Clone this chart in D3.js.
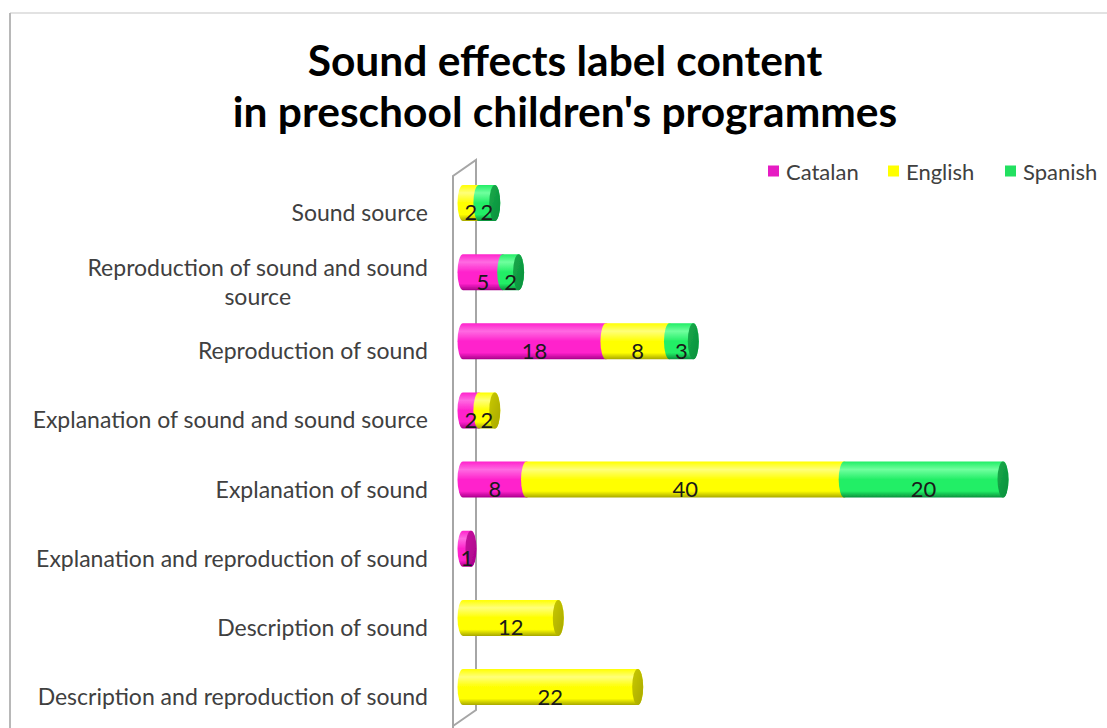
<!DOCTYPE html>
<html>
<head>
<meta charset="utf-8">
<script src="https://cdn.jsdelivr.net/npm/d3@7"></script>
<style>
  html, body { margin: 0; padding: 0; background: #fff; }
  svg { display: block; }
  text { font-family: Lato, "Open Sans", "Liberation Sans", sans-serif; }
</style>
</head>
<body>
<svg id="chart" width="1107" height="728"></svg>
<script>
// Label categories, top to bottom
const categories = [
  "Sound source",
  "Reproduction of sound and sound source",
  "Reproduction of sound",
  "Explanation of sound and sound source",
  "Explanation of sound",
  "Explanation and reproduction of sound",
  "Description of sound",
  "Description and reproduction of sound"
];
const seriesNames = ["Catalan", "English", "Spanish"];
const catalan = [0, 5, 18, 2, 8, 1, 0, 0];
const english = [2, 0, 8, 2, 40, 0, 12, 22];
const spanish = [2, 2, 3, 0, 20, 0, 0, 0];
const titleLines = ["Sound effects label content", "in preschool children's programmes"];

const palette = {
  Catalan: { light: "#ff6ae2", main: "#ff22cc", dark: "#a8008a", cap: "#c8169f", key: "#e61cc3" },
  English: { light: "#ffff7a", main: "#ffff00", dark: "#a8a800", cap: "#c9c900", key: "#ffff00" },
  Spanish: { light: "#70ff9e", main: "#22ee66", dark: "#0a8f3c", cap: "#17aa4a", key: "#22e060" }
};

const rows = categories.map((c, i) => ({
  category: c, Catalan: catalan[i], English: english[i], Spanish: spanish[i]
}));

const svg = d3.select("#chart");
const defs = svg.append("defs");

// Cylinder body shading: vertical gradient per series
seriesNames.forEach(name => {
  const p = palette[name];
  const g = defs.append("linearGradient")
    .attr("id", "grad-" + name).attr("x1", 0).attr("y1", 0).attr("x2", 0).attr("y2", 1);
  [[0, p.main], [0.22, p.light], [0.5, p.main], [0.82, p.main], [1, p.dark]]
    .forEach(([o, c]) => g.append("stop").attr("offset", o).attr("stop-color", c));
  const gc = defs.append("linearGradient")
    .attr("id", "cap-" + name).attr("x1", 0).attr("y1", 0).attr("x2", 1).attr("y2", 1);
  [[0, p.cap], [1, p.dark]].forEach(([o, c]) => gc.append("stop").attr("offset", o).attr("stop-color", c));
});
defs.append("filter").attr("id", "soft")
  .append("feGaussianBlur").attr("stdDeviation", 0.6);

// Outer chart frame
svg.append("line").attr("x1", 10).attr("y1", 13).attr("x2", 1107).attr("y2", 13)
  .attr("stroke", "#d9d9d9").attr("stroke-width", 1.5);
svg.append("line").attr("x1", 10).attr("y1", 13).attr("x2", 10).attr("y2", 728)
  .attr("stroke", "#b8b8b8").attr("stroke-width", 2);

// Title
svg.append("text")
  .attr("x", 565).attr("text-anchor", "middle")
  .attr("font-size", 42.5).attr("font-weight", "bold").attr("fill", "#000")
  .selectAll("tspan").data(titleLines).join("tspan")
  .attr("x", 565).attr("y", (d, i) => 76 + i * 51).text(d => d);

// Scales
const x = d3.scaleLinear().domain([0, 68]).range([463, 1003]);
const y = d3.scalePoint().domain(categories).range([168.4, 721.6]).padding(0.5);
const barH = 36, rx = 5.5, labelDy = 9;

// Side wall (thin 3D plane)
const wall = svg.append("g").attr("fill", "none").attr("stroke", "#a6a6a6").attr("stroke-width", 2);
wall.append("path").attr("d", "M453,728 L453,176 L476,160 L476,710 L453,726");

// Stacked cylinders
const stack = d3.stack().keys(seriesNames)(rows);
const barsG = svg.append("g");
rows.forEach((row, ri) => {
  const cy = y(row.category);
  const top = cy - barH / 2, bot = cy + barH / 2;
  const segs = stack.map(s => ({ key: s.key, x0: s[ri][0], x1: s[ri][1], v: row[s.key] }))
    .filter(s => s.v > 0);
  const g = barsG.append("g").attr("filter", "url(#soft)");
  segs.forEach((s, si) => {
    const a = x(s.x0), b = x(s.x1);
    g.append("path")
      .attr("d", `M${a},${top} L${b},${top} A${rx},${barH / 2} 0 0 1 ${b},${bot} L${a},${bot} A${rx},${barH / 2} 0 0 1 ${a},${top} Z`)
      .attr("fill", `url(#grad-${s.key})`);
    if (si === segs.length - 1) {
      g.append("ellipse").attr("cx", b).attr("cy", cy).attr("rx", rx).attr("ry", barH / 2)
        .attr("fill", `url(#cap-${s.key})`);
    }
  });
  segs.forEach(s => {
    svg.append("text")
      .attr("x", (x(s.x0) + x(s.x1)) / 2).attr("y", cy + labelDy)
      .attr("text-anchor", "middle").attr("dominant-baseline", "central")
      .attr("font-size", 22).attr("fill", "#1a1a1a").text(s.v);
  });
});

// Category labels (wrapped, right-aligned block)
const labelRight = 428, maxW = 400;
categories.forEach(cat => {
  const t = svg.append("text").attr("font-size", 23).attr("fill", "#404040");
  const words = cat.split(" ");
  const lines = [];
  let line = [];
  words.forEach(w => {
    line.push(w);
    t.text(line.join(" "));
    if (t.node().getComputedTextLength() > maxW && line.length > 1) {
      line.pop();
      lines.push(line.join(" "));
      line = [w];
    }
  });
  lines.push(line.join(" "));
  t.text(null);
  const widths = lines.map(l => { t.text(l); return t.node().getComputedTextLength(); });
  t.text(null);
  const blockW = d3.max(widths);
  const cx = labelRight - blockW / 2;
  const lh = 29;
  const cy = y(cat) + labelDy;
  lines.forEach((l, i) => {
    t.append("tspan").attr("x", cx).attr("text-anchor", "middle")
      .attr("y", cy + (i - (lines.length - 1) / 2) * lh)
      .attr("dominant-baseline", "central").text(l);
  });
});

// Legend
const legend = svg.append("g");
const legendX = [768, 888, 1005];
seriesNames.forEach((name, i) => {
  const lg = legend.append("g").attr("transform", `translate(${legendX[i]},171)`);
  lg.append("rect").attr("x", 0).attr("y", -5.5).attr("width", 11).attr("height", 11)
    .attr("fill", palette[name].key);
  lg.append("text").attr("x", 18).attr("y", 0).attr("dominant-baseline", "central")
    .attr("font-size", 22).attr("fill", "#404040").text(name);
});
</script>
</body>
</html>
